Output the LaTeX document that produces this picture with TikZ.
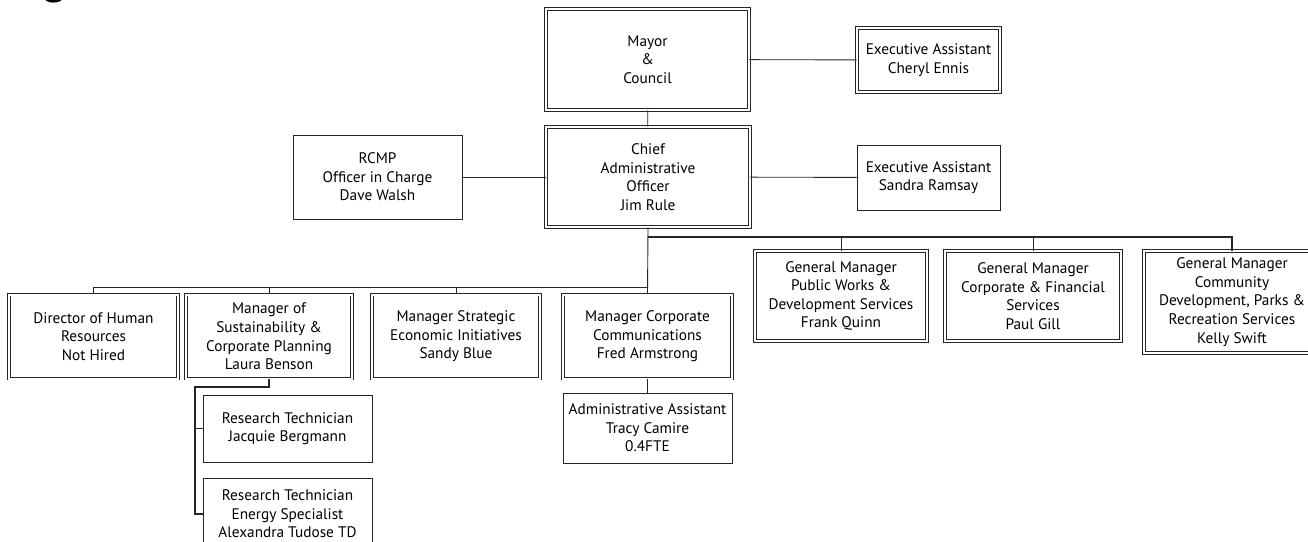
\documentclass[tikz,border=0pt]{standalone}
\usepackage{fontspec}
\setmainfont{PT Sans}
\begin{document}
\begin{tikzpicture}[x=1pt,y=-1pt,
  every node/.style={font=\fontsize{15.3}{18.6}\selectfont, align=center, inner sep=0pt},
  dbox/.style={draw=black!85, double=white, double distance=2pt, line width=0.8pt},
  sbox/.style={draw=black!85, line width=0.9pt},
  conn/.style={draw=black!85, line width=0.9pt},
  bus/.style={draw=black!85, line width=1.8pt}]
\clip (0,0) rectangle (1308,541);
\fill[white] (0,0) rectangle (1308,541);

% lower curve of a heading glyph running off the top edge
\fill[black] (53.5,-2) ellipse (9 and 4.6);

% top levels
\node[dbox, minimum width=203, minimum height=101] (mayor) at (647.5,59.5) {Mayor\\\&\\Council};
\node[dbox, minimum width=143, minimum height=64] (eac) at (928.5,60) {Executive Assistant\\Cheryl Ennis};
\node[dbox, minimum width=204, minimum height=100] (cao) at (648,177) {Chief\\Administrative\\Officer\\Jim Rule};
\node[sbox, minimum width=169, minimum height=84] (rcmp) at (377.5,177) {RCMP\\Officer in Charge\\Dave Walsh};
\node[sbox, minimum width=143, minimum height=65] (eas) at (928.5,177.5) {Executive Assistant\\Sandra Ramsay};

% managers reporting to the CAO
\node[dbox, minimum width=169, minimum height=84] (hr) at (93.5,336.5) {Director of Human\\Resources\\Not Hired};
\node[dbox, minimum width=166, minimum height=84] (sus) at (269,336.5) {Manager of\\Sustainability \&\\Corporate Planning\\Laura Benson};
\node[dbox, minimum width=168, minimum height=84] (strat) at (456,336.5) {Manager Strategic\\Economic Initiatives\\Sandy Blue};
\node[dbox, minimum width=169, minimum height=84] (comm) at (647.5,336.5) {Manager Corporate\\Communications\\Fred Armstrong};

% general managers
\node[dbox, minimum width=172, minimum height=90] (gmpw) at (841,296) {General Manager\\Public Works \&\\Development Services\\Frank Quinn};
\node[dbox, minimum width=176, minimum height=90] (gmcf) at (1033,296) {General Manager\\Corporate \& Financial\\Services\\Paul Gill};
\node[dbox, minimum width=176, minimum height=102] (gmcd) at (1232,302) {General Manager\\Community\\Development, Parks \&\\Recreation Services\\Kelly Swift};

% staff
\node[sbox, minimum width=169, minimum height=67] (rt1) at (287.5,428.5) {Research Technician\\Jacquie Bergmann};
\node[sbox, minimum width=169, minimum height=72] (rt2) at (287.5,514) {Research Technician\\Energy Specialist\\Alexandra Tudose TD};
\node[sbox, minimum width=169, minimum height=70] (adm) at (647.5,428) {Administrative Assistant\\Tracy Camire\\0.4FTE};

% connectors
\draw[conn] (mayor) -- (cao);
\draw[conn] (mayor) -- (eac);
\draw[conn] (cao) -- (rcmp);
\draw[conn] (cao) -- (eas);

\coordinate (lbus) at (647.5,287);
\coordinate (rbus) at (647.5,237);
\draw[conn] (cao.south) -- (comm.north);
\draw[conn] (hr.north) |- (lbus);
\draw[conn] (sus.north) -- (sus.north |- lbus);
\draw[conn] (strat.north) -- (strat.north |- lbus);
\draw[bus] (rbus) -| (gmcd.north);
\draw[conn] (gmpw.north) -- (gmpw.north |- rbus);
\draw[conn] (gmcf.north) -- (gmcf.north |- rbus);

\coordinate (sk) at (195,387);
\draw[bus] (sus.south) |- (sk) |- (rt2.west);
\draw[conn] (sk |- rt1.west) -- (rt1.west);
\draw[conn] (comm) -- (adm);
\end{tikzpicture}
\end{document}
